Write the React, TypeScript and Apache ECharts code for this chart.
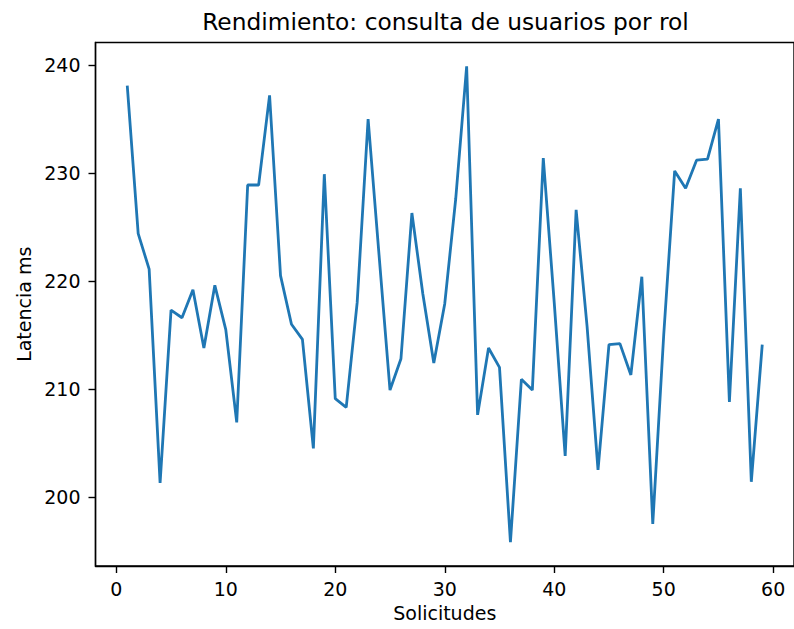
import React, { useEffect, useRef } from "react";
import * as echarts from "echarts";

const requests = [
  1, 2, 3, 4, 5, 6, 7, 8, 9, 10, 11, 12, 13, 14, 15, 16, 17, 18, 19, 20,
  21, 22, 23, 24, 25, 26, 27, 28, 29, 30, 31, 32, 33, 34, 35, 36, 37, 38, 39, 40,
  41, 42, 43, 44, 45, 46, 47, 48, 49, 50, 51, 52, 53, 54, 55, 56, 57, 58, 59,
];

const latencyMs = [
  238.1, 224.4, 221.1, 201.3, 217.3, 216.6, 219.2, 213.8, 219.6, 215.5,
  206.9, 228.9, 228.9, 237.2, 220.5, 216.0, 214.6, 204.5, 229.9, 209.1,
  208.3, 218.0, 235.0, 222.4, 209.9, 212.8, 226.3, 218.8, 212.4, 217.9,
  227.6, 239.9, 207.6, 213.8, 212.0, 195.8, 210.9, 209.9, 231.4, 218.0,
  203.8, 226.6, 215.8, 202.5, 214.1, 214.2, 211.3, 220.4, 197.5, 215.0,
  230.2, 228.6, 231.2, 231.3, 235.0, 208.8, 228.6, 201.4, 214.1,
];

const xTicks = [0, 10, 20, 30, 40, 50, 60];
const yTicks = [200, 210, 220, 230, 240];

const titleText = "Rendimiento: consulta de usuarios por rol";
const xName = "Solicitudes";
const yName = "Latencia ms";

const FONT = "DejaVu Sans";
const LABEL_SIZE = 19;

export default function App() {
  const ref = useRef<HTMLDivElement>(null);

  useEffect(() => {
    document.body.style.margin = "0";
    if (!ref.current) return;
    const chart = echarts.init(ref.current, null, { renderer: "svg" });
    const data = requests.map((r, i) => [r, latencyMs[i]]);
    chart.setOption({
      animation: false,
      backgroundColor: "#ffffff",
      grid: {
        left: 95.5,
        top: 42.5,
        width: 703,
        height: 523.5,
        show: true,
        borderColor: "#000000",
        borderWidth: 1.4,
        backgroundColor: "transparent",
      },
      graphic: [
        {
          type: "text",
          x: 445.5,
          y: 21,
          style: {
            text: titleText,
            font: `23.3px "${FONT}"`,
            fill: "#000000",
            textAlign: "center",
            textVerticalAlign: "middle",
          },
        },
      ],
      xAxis: {
        type: "value",
        min: -1.9,
        max: 61.9,
        name: xName,
        nameLocation: "middle",
        nameGap: 37,
        nameTextStyle: { fontFamily: FONT, fontSize: LABEL_SIZE, color: "#000000" },
        axisLine: { show: true, onZero: false, lineStyle: { color: "#000000", width: 1.4 } },
        axisTick: {
          show: true,
          length: 7,
          lineStyle: { color: "#000000", width: 1.4 },
          customValues: xTicks,
        },
        axisLabel: {
          fontFamily: FONT,
          fontSize: LABEL_SIZE,
          color: "#000000",
          margin: 13,
          customValues: xTicks,
        },
        splitLine: { show: false },
      },
      yAxis: {
        type: "value",
        min: 193.6,
        max: 242.1,
        name: yName,
        nameLocation: "middle",
        nameGap: 62,
        nameRotate: 90,
        nameTextStyle: { fontFamily: FONT, fontSize: LABEL_SIZE, color: "#000000" },
        axisLine: { show: true, onZero: false, lineStyle: { color: "#000000", width: 1.4 } },
        axisTick: {
          show: true,
          length: 7,
          lineStyle: { color: "#000000", width: 1.4 },
          customValues: yTicks,
        },
        axisLabel: {
          fontFamily: FONT,
          fontSize: LABEL_SIZE,
          color: "#000000",
          margin: 15,
          customValues: yTicks,
        },
        splitLine: { show: false },
      },
      series: [
        {
          type: "line",
          data,
          showSymbol: false,
          symbol: "none",
          clip: true,
          lineStyle: { color: "#1f77b4", width: 2.8 },
          itemStyle: { color: "#1f77b4" },
        },
      ],
    });
    return () => chart.dispose();
  }, []);

  return <div ref={ref} style={{ width: 794, height: 629 }} />;
}
